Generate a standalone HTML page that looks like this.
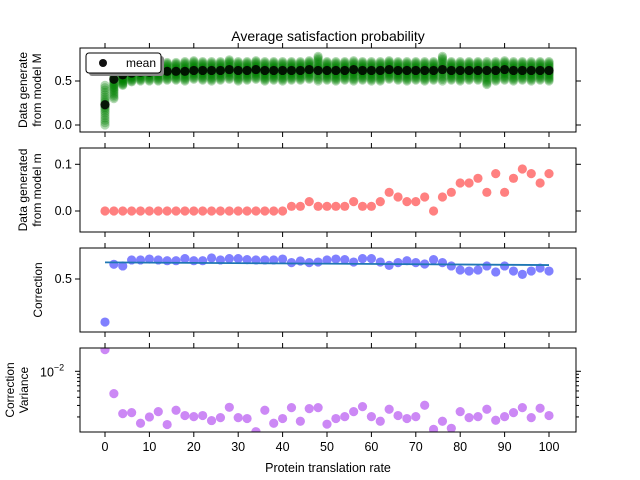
<!DOCTYPE html>
<html><head><meta charset="utf-8"><style>
body{margin:0;background:#fff}
svg{display:block;font-family:"Liberation Sans","DejaVu Sans",sans-serif}
</style></head><body>
<svg id="chart" width="640" height="480" viewBox="0 0 640 480" xmlns="http://www.w3.org/2000/svg"></svg>
<script>
const xs = [];
for (let i = 0; i <= 100; i += 2) xs.push(i);
const meanM = [0.23,0.52,0.57,0.59,0.6,0.6,0.61,0.61,0.61,0.61,0.62,0.62,0.62,0.62,0.63,0.62,0.62,0.63,0.62,0.62,0.62,0.62,0.62,0.63,0.62,0.62,0.62,0.62,0.63,0.62,0.62,0.62,0.63,0.62,0.62,0.62,0.62,0.62,0.63,0.62,0.62,0.62,0.62,0.62,0.62,0.63,0.62,0.62,0.62,0.62,0.62];
const lowM = [0.0,0.3,0.45,0.49,0.5,0.5,0.5,0.51,0.51,0.5,0.52,0.51,0.5,0.51,0.52,0.5,0.51,0.52,0.5,0.51,0.5,0.51,0.51,0.52,0.5,0.51,0.5,0.51,0.5,0.51,0.5,0.5,0.52,0.51,0.5,0.51,0.5,0.51,0.5,0.51,0.5,0.51,0.51,0.46,0.5,0.51,0.5,0.51,0.5,0.51,0.5];
const highM = [0.45,0.6,0.62,0.66,0.68,0.7,0.7,0.71,0.71,0.72,0.73,0.72,0.72,0.72,0.74,0.72,0.72,0.73,0.72,0.72,0.72,0.72,0.72,0.73,0.78,0.72,0.72,0.72,0.73,0.72,0.72,0.72,0.73,0.72,0.72,0.72,0.72,0.72,0.78,0.72,0.72,0.72,0.72,0.72,0.72,0.73,0.72,0.72,0.72,0.72,0.72];
const dataLittleM = [0,0,0,0,0,0,0,0,0,0,0,0,0,0,0,0,0,0,0,0,0,0.01,0.01,0.02,0.01,0.01,0.01,0.01,0.02,0.01,0.01,0.02,0.04,0.03,0.02,0.02,0.03,0,0.03,0.04,0.06,0.06,0.07,0.04,0.08,0.04,0.07,0.09,0.08,0.06,0.08];
const correction = [0.213,0.598,0.587,0.627,0.627,0.633,0.627,0.622,0.622,0.636,0.622,0.622,0.64,0.627,0.636,0.636,0.629,0.627,0.627,0.627,0.633,0.609,0.62,0.609,0.613,0.627,0.633,0.629,0.613,0.636,0.636,0.613,0.591,0.609,0.622,0.609,0.6,0.629,0.609,0.587,0.56,0.553,0.56,0.587,0.547,0.587,0.553,0.531,0.553,0.573,0.553];
const fitLine = [0.611,0.593];
const variance = [0.0215,0.00455,0.00225,0.00233,0.0016,0.002,0.00241,0.00153,0.00253,0.0021,0.00202,0.0021,0.00176,0.00195,0.00281,0.00195,0.00189,0.00119,0.00253,0.0016,0.00189,0.00278,0.00172,0.00268,0.00278,0.00155,0.00189,0.00202,0.00241,0.00288,0.00202,0.00172,0.00262,0.0021,0.00189,0.00202,0.00302,0.00129,0.00172,0.00134,0.00241,0.00195,0.00202,0.00262,0.00178,0.00202,0.00233,0.00278,0.00195,0.00272,0.0021];
const xTicks = [0,10,20,30,40,50,60,70,80,90,100];

const NS = "http://www.w3.org/2000/svg";
const svg = document.getElementById('chart');
function el(tag, attrs, parent) {
  const e = document.createElementNS(NS, tag);
  for (const k in attrs) e.setAttribute(k, attrs[k]);
  (parent || svg).appendChild(e);
  return e;
}
const L = 80, R = 576;
function xScale(v) { return 105 + v * 4.44; }
const panels = [
  {top:48, bot:132},{top:148, bot:232},{top:248, bot:332},{top:348, bot:432}
];
function yP1(v){ return 81 - (v - 0.5) * 88; }
function yP2(v){ return 211 - v * 467; }
function yP3(v){ return 279 - (v - 0.5) * 150; }
function yP4(v){ return 371.3 - (Math.log10(v) + 2) * 65.3; }

const t = el('text', {x:328, y:41, 'text-anchor':'middle', 'font-size':'14', fill:'#000'});


t.textContent = 'Average satisfaction probability';

panels.forEach((p, i) => {
  const clip = el('clipPath', {id:'clip' + i});
  el('rect', {x:L, y:p.top, width:R - L, height:p.bot - p.top}, clip);
  const g = el('g', {'clip-path':'url(#clip' + i + ')'});
  
  
  p.g = g;
  xTicks.forEach(v => {
    const x = xScale(v);
    el('line', {x1:x, x2:x, y1:p.top, y2:p.top - 5, stroke:'#000', 'stroke-width':1});
    el('line', {x1:x, x2:x, y1:p.bot, y2:p.bot + 5, stroke:'#000', 'stroke-width':1});
    if (i === 3) {
      const tl = el('text', {x:x, y:p.bot + 19, 'text-anchor':'middle', 'font-size':'12.5', fill:'#000'});
      
      
      tl.textContent = v;
    }
  });
});

function yTick(p, y, label, len) {
  el('line', {x1:L, x2:L - len, y1:y, y2:y, stroke:'#000', 'stroke-width':1});
  el('line', {x1:R, x2:R + len, y1:y, y2:y, stroke:'#000', 'stroke-width':1});
  if (label) {
    const tl = el('text', {x:L - 8, y:y + 4, 'text-anchor':'end', 'font-size':'12.5', fill:'#000'});
    
    
    tl.textContent = label;
  }
}
yTick(panels[0], yP1(0.5), '0.5', 5);
yTick(panels[0], yP1(0.0), '0.0', 5);
yTick(panels[1], yP2(0.1), '0.1', 5);
yTick(panels[1], yP2(0.0), '0.0', 5);
yTick(panels[2], yP3(0.5), '0.5', 5);
yTick(panels[3], yP4(0.01), '', 5);
[0.002,0.003,0.004,0.005,0.006,0.007,0.008,0.009].forEach(v => yTick(panels[3], yP4(v), '', 3));
{
  const tl = el('text', {x:40, y:yP4(0.01) + 5, 'text-anchor':'start', 'font-size':'12.5', fill:'#000'});
  
  
  tl.textContent = '10';
  const sup = el('tspan', {dy:-6, 'font-size':'9'}, tl);
  sup.textContent = '−2';
}

const fracs = [0,0.06,0.12,0.18,0.24,0.3,0.35,0.4,0.44,0.48,0.52,0.56,0.6,0.65,0.7,0.76,0.82,0.88,0.94,1];
xs.forEach((x, j) => {
  fracs.forEach(f => {
    const v = lowM[j] + (highM[j] - lowM[j]) * f;
    const c = el('circle', {cx:xScale(x), cy:yP1(v), r:4.6, fill:'#008000', 'fill-opacity':0.3}, panels[0].g);
    
    
  });
});
xs.forEach((x, j) => {
  const c = el('circle', {cx:xScale(x), cy:yP1(meanM[j]), r:4.6, fill:'#000', 'fill-opacity':0.85}, panels[0].g);
  
  
});
xs.forEach((x, j) => {
  const c = el('circle', {cx:xScale(x), cy:yP2(dataLittleM[j]), r:4.6, fill:'#ff8080'}, panels[1].g);
  
  
});
xs.forEach((x, j) => {
  const c = el('circle', {cx:xScale(x), cy:yP3(correction[j]), r:4.6, fill:'#8080ff'}, panels[2].g);
  
  
});
{
  const ln = el('line', {x1:xScale(0), x2:xScale(100), y1:yP3(fitLine[0]), y2:yP3(fitLine[1]), stroke:'#1f77b4', 'stroke-width':1.8}, panels[2].g);
  
  
}
xs.forEach((x, j) => {
  const c = el('circle', {cx:xScale(x), cy:yP4(variance[j]), r:4.6, fill:'#cc88f5'}, panels[3].g);
  
  
});

panels.forEach((p, i) => {
  const r = el('rect', {x:L, y:p.top, width:R - L, height:p.bot - p.top, fill:'none', stroke:'#000', 'stroke-width':1});
  
  
});

{
  const lg = el('g', {});
  
  
  el('rect', {x:89, y:56, width:75, height:20, rx:3, fill:'#888'}, lg);
  el('rect', {x:86, y:53, width:75, height:20, rx:3, fill:'#fff', stroke:'#000', 'stroke-width':1}, lg);
  el('circle', {cx:103, cy:63, r:4, fill:'#111'}, lg);
  const tx = el('text', {x:126, y:67, 'font-size':'12', fill:'#000'}, lg);
  tx.textContent = 'mean';
}

function ylab(name, lines, cy, xs0) {
  const tx = el('text', {transform:'translate(0,' + cy + ') rotate(-90)', 'text-anchor':'middle', 'font-size':'12', fill:'#000'});
  
  
  lines.forEach((s, k) => {
    const ts = el('tspan', {x:0, y: xs0[k]}, tx);
    ts.textContent = s;
  });
}
ylab('panel-1-y-label', ['Data generate', 'from model M'], 90, [27, 41]);
ylab('panel-2-y-label', ['Data generated', 'from model m'], 190, [27, 41]);
ylab('panel-3-y-label', ['Correction'], 290, [42]);
ylab('panel-4-y-label', ['Correction', 'Variance'], 390, [14, 28]);

{
  const xl = el('text', {x:328, y:472, 'text-anchor':'middle', 'font-size':'12.5', fill:'#000'});
  
  
  xl.textContent = 'Protein translation rate';
}
</script>
</body></html>
